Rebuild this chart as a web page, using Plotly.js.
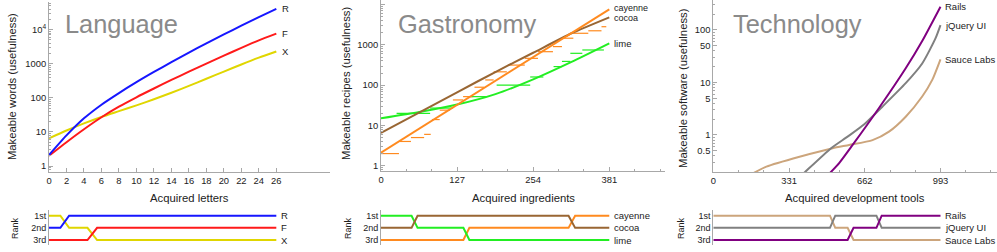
<!DOCTYPE html>
<html><head><meta charset="utf-8">
<script src="https://cdn.plot.ly/plotly-3.0.1.min.js"></script>
<style>html,body{margin:0;padding:0;background:#fff;}#chart{width:997px;height:252px;}</style>
</head><body><div id="chart"></div>
<script>
// ---------- Language ----------
const letters = [0,2,4,6,8,10,12,14,16,18,20,22,24,26];
const wordsR = [2.1,7.9,25,63,138,288,575,1120,2140,3980,7240,13200,23400,40700];
const wordsF = [2,5,12,27,55,104,188,335,585,1010,1730,2930,4850,7650];
const wordsX = [6.5,11,17.8,27.5,40.7,60,91,141,224,363,589,955,1510,2300];
const langRankX_R = [0,1.3,2.3,26], langRank_R = [2,2,1,1];
const langRankX_F = [0,4.4,5.5,26], langRank_F = [3,3,2,2];
const langRankX_X = [0,1.3,2.3,4.4,5.5,26], langRank_X = [1,1,2,2,3,3];

// ---------- Gastronomy ----------
const cayFitX = [0,381], cayFitY = [2.1,7700];
const cocoaX = [0,127,194,254,318,381], cocoaY = [6.5,66.5,225,640,1950,4860];
const limeX = [0,64,127,191,254,318,381], limeY = [15,21.5,33,60,140,380,1100];
// step data: [start, end, value]
const cayStart = [0,31,50,72,85,98,120,137,156,174,188,212,240,262,287,302,321,346,368];
const cayEnd   = [30,50,72,83,98,115,137,154,172,188,210,240,262,287,302,321,346,368,376];
const cayVal   = [2,4,5,6,14,24,43,52,89,135,215,316,465,680,910,1470,1950,2250,2840];
const limeStart = [26,82,149,193,249,288,302,316,336];
const limeEnd   = [82,120,176,249,271,302,316,336,372];
const limeVal   = [20,27,52,100,160,290,390,620,750];
const gasRankX_cay = [0,137.5,147.5,313,324,381], gasRank_cay = [3,3,2,2,1,1];
const gasRankX_coc = [0,51,61,313,324,381], gasRank_coc = [2,2,1,1,2,2];
const gasRankX_lim = [0,51,61,137.5,147.5,381], gasRank_lim = [1,1,2,2,3,3];

// ---------- Technology ----------
const railsX = [480,551,609,725,841,913,993], railsY = [0.138,0.295,0.646,3.3,18.6,61.7,278];
const jqX = [380,401,515,587,660,739,841,913,971,993], jqY = [0.162,0.197,0.56,0.93,1.6,3.46,9.7,23,69,124];
const sauceX = [160,184,232,377,522,594,696,768,841,913,957,993];
const sauceY = [0.17,0.197,0.25,0.386,0.56,0.645,0.80,1.16,2.23,5.4,11.2,27.6];
const tecRankX_rails = [0,587,613,713,736,993], tecRank_rails = [3,3,2,2,1,1];
const tecRankX_jq = [0,510,533,713,736,993], tecRank_jq = [2,2,1,1,2,2];
const tecRankX_sauce = [0,510,533,587,613,993], tecRank_sauce = [1,1,2,2,3,3];

const rankLabels = ['1st','2nd','3rd'];

// ---------- helpers ----------
const W = 997, H = 252;
const px = x => x / W, py = y => 1 - y / H;
const FONT = '"Liberation Sans", Arial, Helvetica, sans-serif';
const AX = '#a8a8a8', TXT = '#222';
const C = {R:'#1616ff', F:'#ff1a1a', X:'#e0d600', cay:'#ff8a1f', coc:'#996633', lim:'#22ee22',
           rails:'#800080', jq:'#808080', sauce:'#cca57c'};

function segs(s, e, v) {
  const x = [], y = [];
  for (let i = 0; i < s.length; i++) { x.push(s[i], e[i], null); y.push(v[i], v[i], null); }
  return {x, y};
}
function logMinor(lo, hi) {
  const out = [];
  for (let d = Math.floor(lo); d <= Math.ceil(hi); d++)
    for (let m = 2; m <= 9; m++) out.push(m * Math.pow(10, d));
  return out;
}
function line(x, y, color, xa, ya, width, shape) {
  return {x, y, xaxis: xa, yaxis: ya, mode: 'lines', hoverinfo: 'skip', showlegend: false,
          line: {color, width: width || 2, shape: shape || 'spline', smoothing: 0.6}, connectgaps: false};
}
const cs = segs(cayStart, cayEnd, cayVal), ls = segs(limeStart, limeEnd, limeVal);

const traces = [
  line(letters, wordsX, C.X, 'x', 'y'),
  line(letters, wordsF, C.F, 'x', 'y'),
  line(letters, wordsR, C.R, 'x', 'y'),
  line(cs.x, cs.y, C.cay, 'x2', 'y2', 1.2, 'linear'),
  line(ls.x, ls.y, C.lim, 'x2', 'y2', 1.2, 'linear'),
  line(limeX, limeY, C.lim, 'x2', 'y2', 2),
  line(cocoaX, cocoaY, C.coc, 'x2', 'y2', 2),
  line(cayFitX, cayFitY, C.cay, 'x2', 'y2', 2, 'linear'),
  line(sauceX, sauceY, C.sauce, 'x3', 'y3', 2),
  line(jqX, jqY, C.jq, 'x3', 'y3', 2),
  line(railsX, railsY, C.rails, 'x3', 'y3', 2),
  line(langRankX_X, langRank_X, C.X, 'x4', 'y4', 2, 'linear'),
  line(langRankX_F, langRank_F, C.F, 'x4', 'y4', 2, 'linear'),
  line(langRankX_R, langRank_R, C.R, 'x4', 'y4', 2, 'linear'),
  line(gasRankX_cay, gasRank_cay, C.cay, 'x5', 'y5', 2, 'linear'),
  line(gasRankX_lim, gasRank_lim, C.lim, 'x5', 'y5', 2, 'linear'),
  line(gasRankX_coc, gasRank_coc, C.coc, 'x5', 'y5', 2, 'linear'),
  line(tecRankX_sauce, tecRank_sauce, C.sauce, 'x6', 'y6', 2, 'linear'),
  line(tecRankX_jq, tecRank_jq, C.jq, 'x6', 'y6', 2, 'linear'),
  line(tecRankX_rails, tecRank_rails, C.rails, 'x6', 'y6', 2, 'linear')
];

const base = {showline: true, linecolor: AX, linewidth: 1, ticks: 'inside', tickcolor: AX, ticklen: 4,
  tickwidth: 1, showgrid: false, zeroline: false, fixedrange: true,
  tickfont: {size: 9.4, color: TXT, family: FONT}};
const minorLin = d => ({ticks: 'inside', ticklen: 2.5, tickcolor: AX, dtick: d, tick0: 0, showgrid: false});
const minorLog = (lo, hi) => ({ticks: 'inside', ticklen: 2, tickcolor: AX, tickmode: 'array', tickvals: logMinor(lo, hi), showgrid: false});

const P1 = [49, 330], P2 = [381, 665], P3 = [713.3, 997];
const R1 = [0, 32.14], R2 = [0, 474], R3 = [0, 1240];
const rankY = {domain: [py(245), py(210)], range: [3.41, 0.531], tickmode: 'array', tickvals: [1,2,3], ticktext: rankLabels,
  showline: true, linecolor: AX, linewidth: 1, ticks: '', showgrid: false, zeroline: false, fixedrange: true,
  tickfont: {size: 9, color: TXT, family: FONT}};

const layout = {
  width: W, height: H, margin: {l: 0, r: 0, t: 0, b: 0}, paper_bgcolor: '#fff', plot_bgcolor: 'rgba(0,0,0,0)',
  font: {family: FONT, color: TXT}, showlegend: false,
  xaxis: Object.assign({}, base, {domain: [px(P1[0]), px(P1[1])], range: R1, anchor: 'y', tickmode: 'array', tickvals: letters}),
  yaxis: Object.assign({}, base, {domain: [py(172), py(2)], type: 'log', range: [-0.176, 4.813], anchor: 'x',
    tickmode: 'array', tickvals: [1,10,100,1000,10000], ticktext: ['1','10','100','1000','10<sup>4</sup>'], minor: minorLog(-1, 4)}),
  xaxis2: Object.assign({}, base, {domain: [px(P2[0]), px(P2[1])], range: R2, anchor: 'y2', tickmode: 'linear', tick0: 0, dtick: 127, minor: minorLin(127/3)}),
  yaxis2: Object.assign({}, base, {domain: [py(171), py(0)], type: 'log', range: [-0.132, 4.117], anchor: 'x2',
    tickmode: 'array', tickvals: [1,10,100,1000,10000], ticktext: ['1','10','100','1000','10<sup>4</sup>'], minor: minorLog(-1, 4)}),
  xaxis3: Object.assign({}, base, {domain: [px(P3[0]), px(P3[1])], range: R3, anchor: 'y3', tickmode: 'linear', tick0: 0, dtick: 331, minor: minorLin(331/3)}),
  yaxis3: Object.assign({}, base, {domain: [py(172), py(0)], type: 'log', range: [-0.705, 2.571], anchor: 'x3',
    tickmode: 'array', tickvals: [0.5,1,5,10,50,100], ticktext: ['0.5','1','5','10','50','100'], minor: minorLog(-1, 2)}),
  xaxis4: {domain: [px(P1[0]), px(P1[1])], range: R1, anchor: 'y4', visible: false, fixedrange: true},
  yaxis4: Object.assign({}, rankY, {anchor: 'x4'}),
  xaxis5: {domain: [px(P2[0]), px(P2[1])], range: R2, anchor: 'y5', visible: false, fixedrange: true},
  yaxis5: Object.assign({}, rankY, {anchor: 'x5'}),
  xaxis6: {domain: [px(P3[0]), px(P3[1])], range: R3, anchor: 'y6', visible: false, fixedrange: true},
  yaxis6: Object.assign({}, rankY, {anchor: 'x6'}),
  annotations: []
};

const A = layout.annotations;
function paperText(text, x, y, size, opts) {
  A.push(Object.assign({text, xref: 'paper', yref: 'paper', x: px(x), y: py(y), showarrow: false,
    xanchor: 'center', yanchor: 'middle', font: {size, color: TXT, family: FONT}}, opts || {}));
}
function endLabel(text, xa, ya, x, y, isLog, shift, size, yshift) {
  A.push({text, xref: xa, yref: ya, x, y: isLog ? Math.log10(y) : y, showarrow: false, xanchor: 'left', yanchor: 'middle',
    xshift: shift, yshift: yshift || 0, font: {size: size || 9.5, color: TXT, family: FONT}});
}
// big titles
paperText('Language', 63, 24.2, 25.4, {xanchor: 'left', font: {size: 25.4, color: '#8a8a8a', family: FONT}});
paperText('Gastronomy', 396, 24.2, 25.4, {xanchor: 'left', font: {size: 25.4, color: '#8a8a8a', family: FONT}});
paperText('Technology', 731, 24.2, 25.4, {xanchor: 'left', font: {size: 25.4, color: '#8a8a8a', family: FONT}});
// axis titles
paperText('Acquired letters', 189.5, 197.5, 11.3);
paperText('Acquired ingredients', 523, 197.5, 11.3);
paperText('Acquired development tools', 855, 197.5, 11.3);
paperText('Makeable words (usefulness)', 12.8, 86.3, 11.3, {textangle: -90});
paperText('Makeable recipes (usefulness)', 346, 84, 11.3, {textangle: -90});
paperText('Makeable software (usefulness)', 683, 88, 11.3, {textangle: -90});
paperText('Rank', 15, 228, 9, {textangle: -90});
paperText('Rank', 348, 228, 9, {textangle: -90});
paperText('Rank', 681, 228, 9, {textangle: -90});
// curve end labels
endLabel('R', 'x', 'y', 26, wordsR[wordsR.length-1], true, 4);
endLabel('F', 'x', 'y', 26, wordsF[wordsF.length-1], true, 4);
endLabel('X', 'x', 'y', 26, wordsX[wordsX.length-1], true, 4);
endLabel('cayenne', 'x2', 'y2', 381, cayFitY[1], true, 3, 9, 1.5);
endLabel('cocoa', 'x2', 'y2', 381, cocoaY[cocoaY.length-1], true, 3, 9, -1);
endLabel('lime', 'x2', 'y2', 381, limeY[limeY.length-1], true, 3);
endLabel('Rails', 'x3', 'y3', 993, railsY[railsY.length-1], true, 3);
endLabel('jQuery UI', 'x3', 'y3', 993, jqY[jqY.length-1], true, 3);
endLabel('Sauce Labs', 'x3', 'y3', 993, sauceY[sauceY.length-1], true, 3);
// rank labels
endLabel('R', 'x4', 'y4', 26, 1, false, 3);
endLabel('F', 'x4', 'y4', 26, 2, false, 3);
endLabel('X', 'x4', 'y4', 26, 3, false, 3);
endLabel('cayenne', 'x5', 'y5', 381, 1, false, 3);
endLabel('cocoa', 'x5', 'y5', 381, 2, false, 3);
endLabel('lime', 'x5', 'y5', 381, 3, false, 3);
endLabel('Rails', 'x6', 'y6', 993, 1, false, 3);
endLabel('jQuery UI', 'x6', 'y6', 993, 2, false, 3);
endLabel('Sauce Labs', 'x6', 'y6', 993, 3, false, 3);

Plotly.newPlot('chart', traces, layout, {displayModeBar: false, staticPlot: true});
</script></body></html>
